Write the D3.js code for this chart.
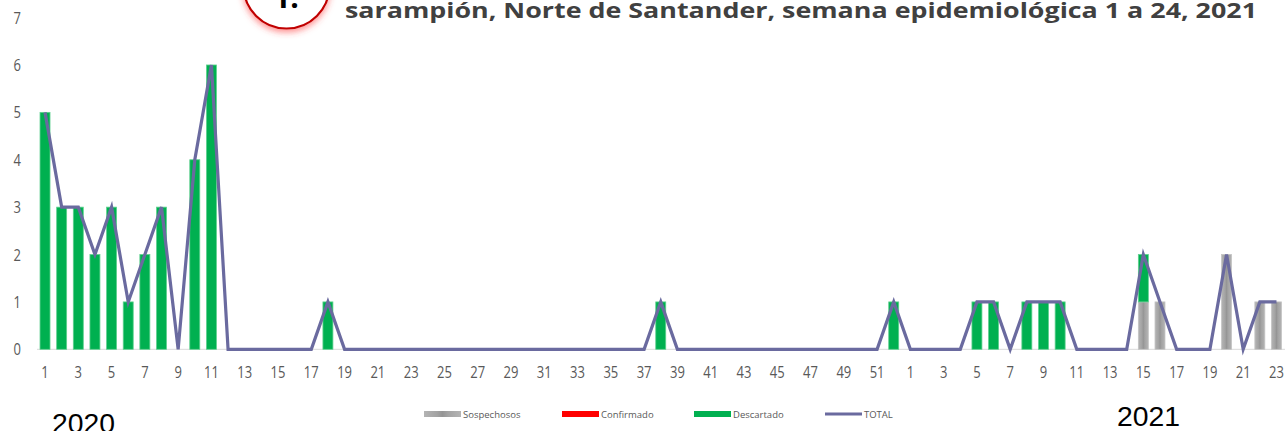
<!DOCTYPE html>
<html>
<head>
<meta charset="utf-8">
<script src="https://cdn.jsdelivr.net/npm/d3@7"></script>
<style>
  html, body { margin: 0; padding: 0; background: #fff; }
  svg { display: block; }
</style>
</head>
<body>
<svg id="chart" width="1285" height="431"></svg>
<script>
// ---- DATA ----
const weeks2020 = d3.range(1, 53).map(String);
const weeks2021 = d3.range(1, 24).map(String);
const categories = weeks2020.map(w => "2020-" + w).concat(weeks2021.map(w => "2021-" + w));
const weekLabels = weeks2020.concat(weeks2021);

const sospechosos = [
  0,0,0,0,0,0,0,0,0,0, 0,0,0,0,0,0,0,0,0,0,
  0,0,0,0,0,0,0,0,0,0, 0,0,0,0,0,0,0,0,0,0,
  0,0,0,0,0,0,0,0,0,0, 0,0,
  0,0,0,0,0,0,0,0,0,0, 0,0,0,0,1,1,0,0,0,2, 0,1,1
];
const confirmado = [
  0,0,0,0,0,0,0,0,0,0, 0,0,0,0,0,0,0,0,0,0,
  0,0,0,0,0,0,0,0,0,0, 0,0,0,0,0,0,0,0,0,0,
  0,0,0,0,0,0,0,0,0,0, 0,0,
  0,0,0,0,0,0,0,0,0,0, 0,0,0,0,0,0,0,0,0,0, 0,0,0
];
const descartado = [
  5,3,3,2,3,1,2,3,0,4, 6,0,0,0,0,0,0,1,0,0,
  0,0,0,0,0,0,0,0,0,0, 0,0,0,0,0,0,0,1,0,0,
  0,0,0,0,0,0,0,0,0,0, 0,1,
  0,0,0,0,1,1,0,1,1,1, 0,0,0,0,1,0,0,0,0,0, 0,0,0
];
const total = categories.map((c, i) => sospechosos[i] + confirmado[i] + descartado[i]);
const yTicks = [0,1,2,3,4,5,6,7];
const seriesNames = ["Sospechosos", "Confirmado", "Descartado"];
const titleText = "sarampión, Norte de Santander, semana epidemiológica 1 a 24, 2021";

// ---- CHART ----
const svg = d3.select("#chart");
const defs = svg.append("defs");
const tickFont = "'Open Sans', sans-serif";

const grayGrad = defs.append("linearGradient").attr("id", "grayGrad").attr("x1", "0%").attr("x2", "100%");
grayGrad.append("stop").attr("offset", "0%").attr("stop-color", "#b4b4b4");
grayGrad.append("stop").attr("offset", "35%").attr("stop-color", "#a3a3a3");
grayGrad.append("stop").attr("offset", "50%").attr("stop-color", "#959595");
grayGrad.append("stop").attr("offset", "65%").attr("stop-color", "#a3a3a3");
grayGrad.append("stop").attr("offset", "100%").attr("stop-color", "#b4b4b4");

const glow = defs.append("filter").attr("id", "glow").attr("x", "-50%").attr("y", "-50%").attr("width", "200%").attr("height", "200%");
glow.append("feGaussianBlur").attr("in", "SourceAlpha").attr("stdDeviation", 3).attr("result", "b");
glow.append("feOffset").attr("in", "b").attr("dy", 3).attr("result", "o");
glow.append("feFlood").attr("flood-color", "#ff3b3b").attr("flood-opacity", 0.55);
glow.append("feComposite").attr("in2", "o").attr("operator", "in").attr("result", "s");
const merge = glow.append("feMerge");
merge.append("feMergeNode").attr("in", "s");
merge.append("feMergeNode").attr("in", "SourceGraphic");

const x = d3.scaleBand().domain(categories).range([36.7, 1284.8]).paddingInner(0.4).paddingOuter(0.2);
const y = d3.scaleLinear().domain([0, 7]).range([349.3, 17.6]);

// baseline
svg.append("line")
  .attr("x1", 37).attr("x2", 1285)
  .attr("y1", y(0)).attr("y2", y(0))
  .attr("stroke", "#d9d9d9").attr("stroke-width", 1);

// y axis labels
const yAxis = d3.axisLeft(y).tickValues(yTicks).tickSize(0).tickPadding(0).tickFormat(d3.format("d"));
const gy = svg.append("g").attr("transform", "translate(21,0)").call(yAxis);
gy.select(".domain").remove();
gy.selectAll("text")
  .attr("fill", "#595959").style("font-family", tickFont).style("font-size", "13px")
  .attr("dy", null).attr("y", 0)
  .attr("transform", "translate(0,5.6) scale(1,1.24)");

// x axis labels
const xAxis = d3.axisBottom(x).tickSize(0).tickPadding(0)
  .tickFormat((d, i) => (i % 2 === 0 ? weekLabels[i] : ""));
const gx = svg.append("g").attr("transform", "translate(0,0)").call(xAxis);
gx.select(".domain").remove();
gx.selectAll("text")
  .attr("fill", "#595959").style("font-family", tickFont).style("font-size", "13px")
  .attr("dy", null).attr("y", 0)
  .attr("transform", "translate(0,378) scale(1,1.24)");

// stacked bars
const rows = categories.map((c, i) => ({ cat: c, Sospechosos: sospechosos[i], Confirmado: confirmado[i], Descartado: descartado[i] }));
const stack = d3.stack().keys(seriesNames)(rows);
const fills = ["url(#grayGrad)", "#FF0000", "#00B050"];
const strokes = ["#c4c4c4", "#ff6666", "#5fd08f"];
stack.forEach((layer, k) => {
  svg.append("g").selectAll("rect")
    .data(layer.filter(d => d[1] - d[0] > 0))
    .join("rect")
    .attr("x", d => x(d.data.cat))
    .attr("width", x.bandwidth())
    .attr("y", d => y(d[1]))
    .attr("height", d => y(d[0]) - y(d[1]))
    .attr("fill", fills[k])
    .attr("stroke", strokes[k])
    .attr("stroke-width", 0.8);
});

// total line
const line = d3.line()
  .x((d, i) => x(categories[i]) + x.bandwidth() / 2)
  .y(d => y(d));
svg.append("path")
  .datum(total)
  .attr("d", line)
  .attr("fill", "none")
  .attr("stroke", "#6A6A9F")
  .attr("stroke-width", 3.2)
  .attr("stroke-linejoin", "miter");

// legend
const legendItems = [
  { name: "Sospechosos", x: 424, type: "rect", fill: "url(#grayGrad)" },
  { name: "Confirmado", x: 562, type: "rect", fill: "#FF0000" },
  { name: "Descartado", x: 694, type: "rect", fill: "#00B050" },
  { name: "TOTAL", x: 825, type: "line", fill: "#6A6A9F" }
];
const lg = svg.append("g");
legendItems.forEach(it => {
  if (it.type === "rect") {
    lg.append("rect").attr("x", it.x).attr("y", 411).attr("width", 37).attr("height", 6).attr("fill", it.fill);
  } else {
    lg.append("line").attr("x1", it.x).attr("x2", it.x + 37).attr("y1", 414).attr("y2", 414)
      .attr("stroke", it.fill).attr("stroke-width", 3);
  }
  lg.append("text").attr("x", it.x + 39).attr("y", 418)
    .attr("fill", "#595959")
    .style("font-family", tickFont).style("font-size", "9.5px")
    .text(it.name);
});

// year labels
svg.append("text").attr("x", 52).attr("y", 433).attr("fill", "#000")
  .style("font-family", "'Liberation Sans', sans-serif").style("font-size", "28px")
  .attr("textLength", 63).attr("lengthAdjust", "spacingAndGlyphs").text("2020");
svg.append("text").attr("x", 1117).attr("y", 426).attr("fill", "#000")
  .style("font-family", "'Liberation Sans', sans-serif").style("font-size", "27px")
  .attr("textLength", 63).attr("lengthAdjust", "spacingAndGlyphs").text("2021");

// circle badge
svg.append("circle").attr("cx", 286.5).attr("cy", -14.5).attr("r", 43)
  .attr("fill", "#fff").attr("stroke", "#C00000").attr("stroke-width", 2.2)
  .attr("filter", "url(#glow)");
svg.append("text").attr("x", 286).attr("y", 8).attr("text-anchor", "middle")
  .attr("fill", "#000").style("font-family", "'Open Sans', sans-serif").style("font-weight", "bold").style("font-size", "30px")
  .text("1.");

// title
svg.append("text").attr("x", 345).attr("y", 18).attr("fill", "#404040")
  .style("font-family", "'Open Sans', sans-serif").style("font-weight", "bold").style("font-size", "22px")
  .attr("textLength", 912).attr("lengthAdjust", "spacingAndGlyphs")
  .text(titleText);
</script>
</body>
</html>
